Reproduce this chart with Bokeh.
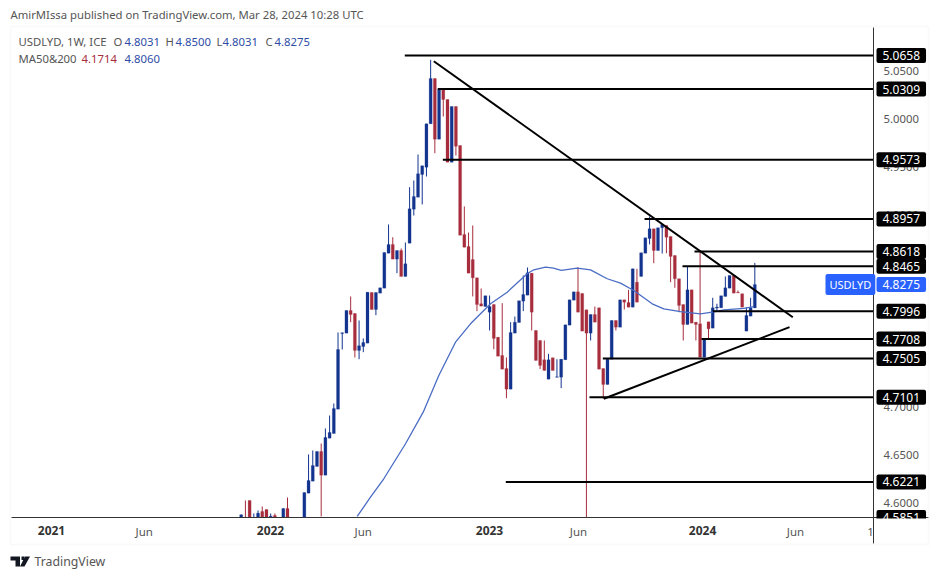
from bokeh.plotting import figure
from bokeh.models import (LinearAxis, FixedTicker, Label, BoxAnnotation, PolyAnnotation, Range1d, CustomJSTickFormatter)
from bokeh.embed import file_html
from bokeh.resources import INLINE

# ---------- data ----------
opens = [4.5845,4.5845,4.6028,4.584,4.585,4.5914,4.5934,4.585,4.5872,4.584,4.583,4.5945,4.580,4.575,4.578,4.580,
4.6104,4.6229,4.6382,4.6538,4.6291,4.6676,4.6725,4.6978,4.7765,4.7769,4.8005,4.7974,4.7589,4.7630,4.7665,4.8192,4.8015,4.8185,4.8237,4.8601,4.8692,4.8539,4.8629,4.8359,
4.8705,4.9059,4.9184,4.9420,4.9496,4.9947,5.0419,4.9787,5.0307,5.0200,4.9548,5.0127,4.9721,4.8796,4.8671,4.8535,4.8345,4.8075,4.8046,4.7987,
4.8067,4.7727,4.7537,4.7401,4.7186,4.7769,4.7880,4.8102,4.8164,4.8393,4.7797,4.7693,4.7492,4.7290,4.7513,4.7310,4.7311,4.7492,4.7852,4.8112,
4.8199,4.8182,4.8012,4.7769,4.7963,4.8033,4.7401,4.7235,4.7498,4.7901,4.7831,4.8116,4.8088,4.8039,4.8299,4.8359,4.8601,4.8754,4.8855,4.8629,
4.8865,4.8889,4.8775,4.8577,4.8335,4.8067,4.7859,4.8220,4.7883,4.7866,4.7519,4.7887,4.7821,4.8030,4.8033,4.8151,4.8237,4.8369,4.8194,4.8179,
4.7790,4.7946,4.8031]
highs = [4.5882,4.6028,4.6028,4.5893,4.5924,4.5966,4.5934,4.5893,4.5893,4.5845,4.5945,4.6059,4.583,4.581,4.583,4.6111,
4.6507,4.6548,4.6538,4.6621,4.6777,4.6912,4.7037,4.7776,4.7776,4.8005,4.8151,4.7974,4.7901,4.7714,4.8195,4.8192,4.8192,4.8241,4.8608,4.8900,4.8767,4.8629,4.8650,4.8712,
4.9288,4.9357,4.9628,4.9510,4.9947,5.0613,5.0419,5.0307,5.0307,5.0200,5.0127,5.0127,4.9721,4.9087,4.8816,4.8889,4.8345,4.8234,4.8158,4.8161,
4.8067,4.7727,4.8081,4.7516,4.7883,4.7942,4.8106,4.8369,4.8452,4.8393,4.7797,4.7693,4.7693,4.7554,4.7513,4.7498,4.7498,4.7856,4.8116,4.8199,
4.8455,4.8182,4.8012,4.7963,4.8046,4.8033,4.7401,4.7498,4.7901,4.7901,4.8116,4.8116,4.8220,4.8439,4.8439,4.8605,4.8761,4.8983,4.8855,4.8865,
4.8900,4.8889,4.8775,4.8577,4.8335,4.8067,4.8463,4.8220,4.7883,4.8629,4.7714,4.7887,4.8137,4.8075,4.8158,4.8359,4.8369,4.8369,4.8213,4.8179,
4.8039,4.8137,4.8500]
lows = [4.5840,4.583,4.582,4.583,4.584,4.584,4.584,4.583,4.583,4.58,4.58,4.578,4.572,4.572,4.574,4.579,
4.6104,4.6229,4.6382,4.5862,4.6291,4.6676,4.6725,4.6978,4.7599,4.7769,4.7883,4.7516,4.7498,4.7571,4.7665,4.8015,4.7956,4.8185,4.8237,4.8601,4.8539,4.8393,4.8359,4.8359,
4.8705,4.8993,4.9184,4.9108,4.9399,4.9947,4.9641,4.9787,5.0023,4.9548,4.9548,4.9617,4.8788,4.8663,4.8393,4.8151,4.7998,4.8050,4.8046,4.7797,
4.7602,4.7529,4.7394,4.7092,4.7186,4.7769,4.7880,4.7998,4.8164,4.7797,4.7485,4.7395,4.7381,4.7290,4.7381,4.7310,4.7197,4.7492,4.7852,4.8112,
4.7987,4.7790,4.5851,4.7693,4.7883,4.7394,4.7086,4.7235,4.7498,4.7797,4.7831,4.8015,4.8039,4.8039,4.8091,4.8359,4.8601,4.8692,4.8497,4.8629,
4.8598,4.8601,4.8299,4.8241,4.7987,4.7693,4.7859,4.7873,4.7693,4.7519,4.7519,4.7700,4.7821,4.8005,4.8033,4.8151,4.8237,4.8185,4.8186,4.8039,
4.7790,4.7946,4.8031]
closes = [4.5880,4.583,4.584,4.585,4.5896,4.5855,4.5851,4.5865,4.585,4.582,4.5945,4.580,4.575,4.578,4.580,4.6111,
4.6236,4.6392,4.6538,4.6291,4.6684,4.6736,4.6985,4.7599,4.7773,4.8005,4.7963,4.7589,4.7638,4.7672,4.8195,4.8015,4.8192,4.8241,4.8608,4.8692,4.8539,4.8629,4.8359,4.8491,
4.9063,4.9191,4.9427,4.9510,4.9947,5.0419,4.9787,5.0307,5.0200,4.9548,5.0127,4.9714,4.8788,4.8663,4.8393,4.8345,4.8067,4.8050,4.8158,4.8046,
4.7714,4.7529,4.7394,4.7186,4.7776,4.7883,4.8106,4.8171,4.8397,4.7987,4.7485,4.7433,4.7381,4.7492,4.7381,4.7315,4.7498,4.7856,4.8116,4.8199,
4.7987,4.7790,4.7769,4.7963,4.7883,4.7394,4.7235,4.7498,4.7901,4.7831,4.8116,4.8091,4.8039,4.8439,4.8091,4.8605,4.8761,4.8855,4.8629,4.8865,
4.8900,4.8767,4.8567,4.8335,4.8057,4.7859,4.8220,4.7873,4.7859,4.7519,4.7714,4.7814,4.8033,4.8040,4.8158,4.8241,4.8369,4.8185,4.8188,4.8039,
4.7953,4.8033,4.8275]

ma_weeks = [27.55,30.71,33.87,39.03,43.23,46.94,50.90,54.47,59.22,63.18,67.93,69.50,72.28,74.18,76.01,79.81,82.97,86.94,90.10,93.25,97.62,100.38,104.35,109.10,111.88,114.63,119.38,121.76]
ma_values = [4.5862,4.6062,4.6254,4.6618,4.6947,4.7328,4.7675,4.7866,4.8074,4.8195,4.8387,4.8428,4.8455,4.8445,4.8421,4.8445,4.8428,4.8335,4.8289,4.8213,4.8074,4.8022,4.7994,4.7970,4.7987,4.8012,4.8026,4.8046]

level_prices = [5.0658,5.0309,4.9573,4.8957,4.8618,4.8465,4.7996,4.7708,4.7505,4.7101,4.6221]
level_starts = [38.86,46.70,47.89,95.80,107.67,104.82,112.02,109.33,85.89,82.73,62.85]
level_labels = ["5.0658","5.0309","4.9573","4.8957","4.8618","4.8465","4.7996","4.7708","4.7505","4.7101","4.6221"]

trend_weeks = [[45.75,131.02],[86.13,130.24]]
trend_prices = [[5.0598,4.7935],[4.7086,4.7831]]

price_ticks = [5.05,5.00,4.95,4.90,4.85,4.80,4.75,4.70,4.65,4.60]
month_ticks = [-23.04,28.98,80.12,131.67,149.5]
month_labels = ["Jun","Jun","Jun","Jun","1"]
year_ticks = [-45.06,6.96,58.98,109.58]
year_labels = ["2021","2022","2023","2024"]

# ---------- style ----------
FONT = "Noto Sans"
BLUE, RED = "#12348F", "#A72D3D"
GREY = "#555555"
W, H = 930, 570
# the plot area fills the canvas so that nothing around the chart gets clipped
PX_PER_WEEK = 862 / 204.75
PX_PER_UNIT = 490 / (5.0949 - 4.5851)
AXIS_WEEK, AXIS_PRICE = 150.19, 4.5851       # right and bottom edges of the chart pane
XMIN = AXIS_WEEK - 873 / PX_PER_WEEK
XMAX = AXIS_WEEK + (W - 873) / PX_PER_WEEK
YMIN = AXIS_PRICE - (H - 517) / PX_PER_UNIT
YMAX = AXIS_PRICE + 517 / PX_PER_UNIT
p = figure(width=W, height=H, output_backend="svg", toolbar_location=None,
           x_range=Range1d(XMIN, XMAX), y_range=Range1d(YMIN, YMAX),
           min_border_left=0, min_border_right=0, min_border_top=0, min_border_bottom=0,
           y_axis_location=None, x_axis_location=None)
p.grid.visible = False
p.outline_line_color = None
p.background_fill_color = "white"

def page_week(px):
    return XMIN + px / PX_PER_WEEK
def page_price(py):
    return YMIN + (H - py) / PX_PER_UNIT

ax = LinearAxis(ticker=FixedTicker(ticks=month_ticks), fixed_location=AXIS_PRICE,
                bounds=(page_week(11), page_week(928)))
ax.major_label_overrides = dict(zip(month_ticks, month_labels))
ax.major_tick_line_color = None
ax.minor_tick_line_color = None
ax.major_tick_out = 0
ax.major_tick_in = 0
ax.axis_line_color = "#333333"
ax.major_label_text_font = FONT
ax.major_label_text_font_size = "11.5px"
ax.major_label_text_color = GREY
ax.major_label_standoff = 6
p.add_layout(ax, "below")

ay = LinearAxis(ticker=FixedTicker(ticks=price_ticks), fixed_location=AXIS_WEEK,
                bounds=(page_price(543), page_price(27)))
ay.major_tick_line_color = None
ay.minor_tick_line_color = None
ay.major_tick_out = 0
ay.major_tick_in = 0
ay.axis_line_color = "#333333"
ay.major_label_text_font = FONT
ay.major_label_text_font_size = "11.3px"
ay.major_label_text_color = GREY
ay.major_label_standoff = 10
ay.formatter = CustomJSTickFormatter(code="return tick.toFixed(4)")
p.add_layout(ay, "right")

# candles: what falls below the pane's bottom edge stays out of view
keep = [i for i, h in enumerate(highs) if h > AXIS_PRICE]
weeks = keep
colors = [BLUE if closes[i] >= opens[i] else RED for i in keep]
tops = [max(opens[i], closes[i], AXIS_PRICE) for i in keep]
bots = [max(min(opens[i], closes[i]), AXIS_PRICE) for i in keep]
wick_lo = [max(lows[i], AXIS_PRICE) for i in keep]
wick_hi = [highs[i] for i in keep]
p.segment(weeks, wick_lo, weeks, wick_hi, color=colors, line_width=1)
p.vbar(x=weeks, top=tops, bottom=bots, width=0.72, fill_color=colors, line_color=colors, line_width=0.2)

# moving average
p.line(ma_weeks, ma_values, line_color="#4A6CC4", line_width=1.3)

# drawings
for start, price in zip(level_starts, level_prices):
    p.line([start, AXIS_WEEK], [price, price], line_color="black", line_width=2)
for xs, ys in zip(trend_weeks, trend_prices):
    p.line(xs, ys, line_color="black", line_width=2)

# annotation screen units run from the frame's lower-left corner
def sy(page_y):
    return H - page_y
def price_sy(price):
    return (price - YMIN) * PX_PER_UNIT
def week_sx(wk):
    return (wk - XMIN) * PX_PER_WEEK

def text(page_x, page_y, s, color=GREY, size="11.3px", style="normal"):
    p.add_layout(Label(x=page_x, y=sy(page_y), x_units="screen", y_units="screen", text=s,
                       text_color=color, text_font=FONT, text_font_size=size, text_font_style=style,
                       text_baseline="middle", text_align="left"))

def box(l, r, t, b, fill="white", line=None, lw=1):
    p.add_layout(BoxAnnotation(left=l, right=r, top=sy(t), bottom=sy(b),
                               left_units="screen", right_units="screen", top_units="screen", bottom_units="screen",
                               fill_color=fill, fill_alpha=1 if fill else 0, line_color=line, line_width=lw, level="annotation"))

def poly(pts, color="#131722"):
    p.add_layout(PolyAnnotation(xs=[a for a, _ in pts], ys=[sy(b) for _, b in pts],
                                xs_units="screen", ys_units="screen",
                                fill_color=color, fill_alpha=1, line_color=None, level="annotation"))

# year labels on the time axis
for wk, s in zip(year_ticks, year_labels):
    p.add_layout(Label(x=week_sx(wk), y=sy(530), x_units="screen", y_units="screen", text=s, text_color="#333333",
                       text_font=FONT, text_font_size="12px", text_font_style="bold",
                       text_baseline="middle", text_align="center"))

# price tags
def tag(price, s, fill="black"):
    p.add_layout(Label(x=876, y=price_sy(price), x_units="screen", y_units="screen", text=s, text_color="white",
                       text_font=FONT, text_font_size="12px", text_baseline="middle", text_align="left",
                       background_fill_color=fill, background_fill_alpha=1, padding=(6, 3), border_radius=2))

tag(4.5851, "4.5851")
for pr, s in zip(level_prices, level_labels):
    tag(pr, s)
tag(closes[-1], "4.8275", fill="#2962FF")
p.add_layout(Label(x=825, y=price_sy(closes[-1]), x_units="screen", y_units="screen", text="USDLYD", text_color="white",
                   text_font=FONT, text_font_size="11px", text_baseline="middle", text_align="left",
                   background_fill_color="#2962FF", background_fill_alpha=1, padding=(4, 3), border_radius=2))

# hide what runs below the chart, then the pane's frame
box(874, 927, 518, 542)
box(10, 928, 26, 544, fill=None, line="#EEEEEE", lw=2)

# header and legend
text(10, 14, "AmirMIssa published on TradingView.com, Mar 28, 2024 10:28 UTC")
LB = "#2E4CA6"
text(18, 41, "USDLYD, 1W, ICE")
for x, s, c in [(113, "O", GREY), (124, "4.8031", LB), (165, "H", GREY), (175, "4.8500", LB),
                (216, "L", GREY), (222, "4.8031", LB), (265, "C", GREY), (274, "4.8275", LB)]:
    text(x, 41, s, color=c)
text(18, 58, "MA50&200")
text(81, 58, "4.1714", color=RED)
text(124, 58, "4.8060", color=LB)

# footer logo
poly([(10, 556), (19.5, 556), (19.5, 566), (15, 566), (15, 560), (10, 560)])
poly([(21, 556), (24, 556), (24, 559.5), (21, 559.5)])
poly([(24.5, 556), (29.5, 556), (24, 566), (19.5, 566)])
text(34, 561, "TradingView", size="12.3px")

open("out.html", "w").write(file_html(p, INLINE))
